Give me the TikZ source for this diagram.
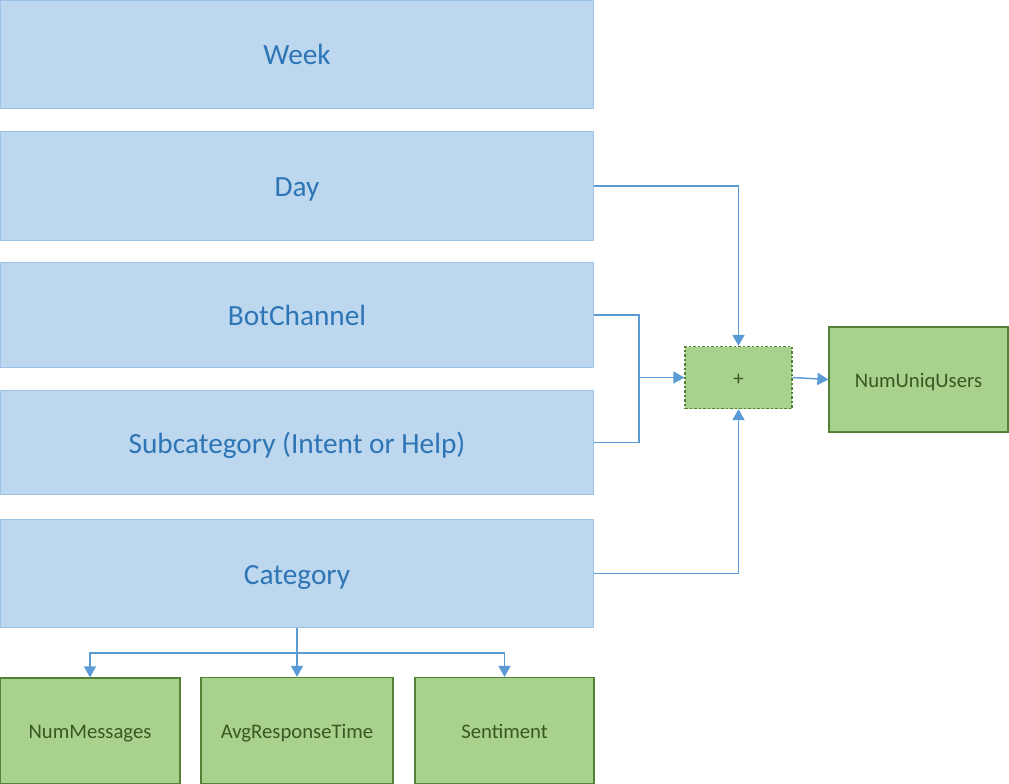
\documentclass[tikz,border=0pt]{standalone}
\usepackage{fontspec}
\setmainfont{Carlito}
\usetikzlibrary{arrows.meta}
\definecolor{bfill}{HTML}{BDD7EE}
\definecolor{bdraw}{HTML}{9DC3E6}
\definecolor{btext}{HTML}{2E75B6}
\definecolor{gfill}{HTML}{A9D18E}
\definecolor{gdraw}{HTML}{548235}
\definecolor{gtext}{HTML}{385723}
\definecolor{lcol}{HTML}{5B9BD5}
\tikzset{
  bluebox/.style={draw=bdraw, fill=bfill, text=btext, line width=1pt, inner sep=0pt,
    text height=22pt, text depth=1pt,
    font=\fontsize{29.3}{34}\selectfont},
  greenbox/.style={draw=gdraw, fill=gfill, text=gtext, line width=1.2pt, inner sep=0pt,
    text height=16pt, text depth=1pt,
    font=\fontsize{20.7}{25}\selectfont},
  plusbox/.style={greenbox, dashed, dash pattern=on 2.5pt off 2pt},
  wire/.style={draw=lcol, line width=1.5pt},
  conn/.style={wire, -{Triangle[length=11pt,width=12pt]}},
}
\begin{document}
\begin{tikzpicture}[x=1pt,y=-1pt]
\useasboundingbox (0,0) rectangle (1009,784);
\node[bluebox, minimum width=593pt, minimum height=108pt] (week) at (297,54.5) {Week};
\node[bluebox, minimum width=593pt, minimum height=109pt] (day) at (297,186) {Day};
\node[bluebox, minimum width=593pt, minimum height=105pt] (bot) at (297,315) {BotChannel};
\node[bluebox, minimum width=593pt, minimum height=104pt] (sub) at (297,442.5) {Subcategory (Intent or Help)};
\node[bluebox, minimum width=593pt, minimum height=108pt] (cat) at (297,573.5) {Category};
\node[plusbox, minimum width=107pt, minimum height=62pt] (plus) at (738.5,377.5) {+};
\node[greenbox, minimum width=179pt, minimum height=105pt] (nu) at (918.5,379.5) {NumUniqUsers};
\node[greenbox, minimum width=180pt, minimum height=106pt] (nm) at (90,731) {NumMessages};
\node[greenbox, minimum width=192pt, minimum height=106pt] (avg) at (297,730.5) {AvgResponseTime};
\node[greenbox, minimum width=179pt, minimum height=106pt] (sen) at (504.5,730.5) {Sentiment};
\coordinate (j) at (639,377.5);
\coordinate (split) at (297,653);
\draw[conn] (day.east) -| (plus.north);
\draw[conn] (cat.east) -| (plus.south);
\draw[wire] (bot.east) -| (j) |- (sub.east);
\draw[conn] (j) -- (plus.west);
\draw[conn] (plus.east) -- (nu.west);
\draw[conn] (cat.south) -- (avg.north);
\draw[conn] (split) -| (nm.north);
\draw[conn] (split) -| (sen.north);
\end{tikzpicture}
\end{document}
